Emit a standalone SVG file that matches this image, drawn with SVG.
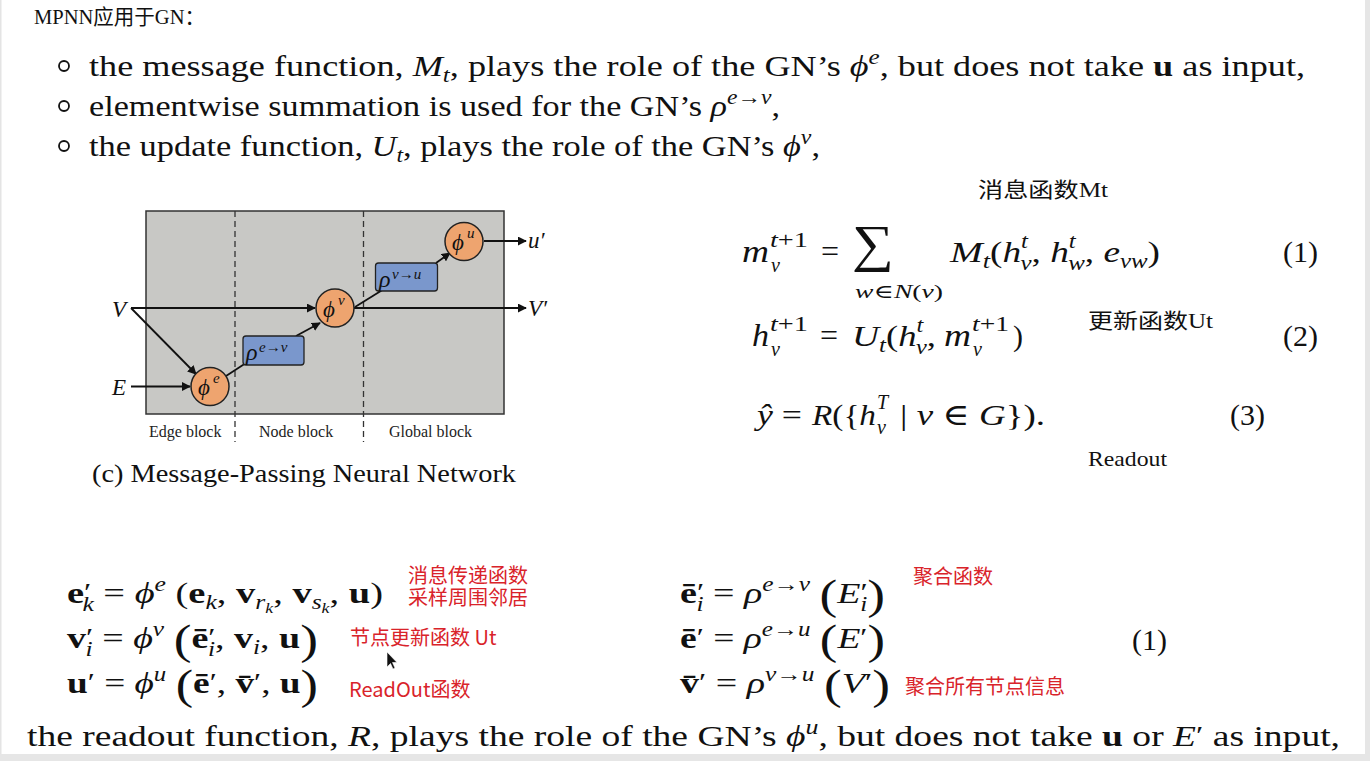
<svg xmlns="http://www.w3.org/2000/svg" width="1370" height="761" viewBox="0 0 1370 761">
<defs>
<style>
.serif{font-family:"Liberation Serif","DejaVu Serif",serif;fill:#111;}
.it{font-style:italic;}
.bf{font-weight:bold;}
.cjk{font-family:"Liberation Serif","Noto Sans CJK SC",serif;fill:#111;}
.red{font-family:"Noto Sans CJK SC","Noto Sans",sans-serif;fill:#d9232a;font-size:20px;}
.conn{stroke:#111;stroke-width:1.8;fill:none;}
.node{fill:#eea46f;stroke:#222;stroke-width:1.5;}
.box{fill:#7a97cc;stroke:#222;stroke-width:1.3;}
.dash{stroke:#333;stroke-width:1.3;stroke-dasharray:6,4;fill:none;}
.lbl{font-family:"Liberation Serif","DejaVu Serif",serif;font-style:italic;fill:#111;}
.blk{font-family:"Liberation Serif","DejaVu Serif",serif;font-size:16px;fill:#222;}
</style>
<marker id="ah" viewBox="0 0 10 10" refX="9" refY="5" markerWidth="5" markerHeight="5" orient="auto" markerUnits="strokeWidth">
<path d="M0,0 L10,5 L0,10 z" fill="#111"/>
</marker>
</defs>
<rect x="0" y="0" width="1370" height="761" fill="#ffffff"/>
<rect x="0" y="0" width="1.5" height="761" fill="#e4e4e4"/>
<rect x="1365" y="0" width="5" height="761" fill="#e6e6e6"/>
<rect x="0" y="754" width="1370" height="7" fill="#e6e6e6"/>

<!-- header -->
<text class="cjk" x="34" y="24" font-size="21" textLength="171" lengthAdjust="spacingAndGlyphs">MPNN应用于GN：</text>

<!-- bullets -->
<g fill="none" stroke="#111" stroke-width="1.8">
<circle cx="64" cy="66" r="5"/>
<circle cx="64" cy="106" r="5"/>
<circle cx="64" cy="146" r="5"/>
</g>
<text class="serif" x="89" y="76" font-size="29" textLength="1216" lengthAdjust="spacingAndGlyphs">the message function, <tspan class="it">M</tspan><tspan class="it" font-size="20" dy="6">t</tspan><tspan dy="-6">, plays the role of the GN’s </tspan><tspan class="it">ϕ</tspan><tspan class="it" font-size="20" dy="-12">e</tspan><tspan dy="12">, but does not take </tspan><tspan class="bf">u</tspan> as input,</text>
<text class="serif" x="89" y="116" font-size="29" textLength="691" lengthAdjust="spacingAndGlyphs">elementwise summation is used for the GN’s <tspan class="it">ρ</tspan><tspan class="it" font-size="20" dy="-12">e→v</tspan><tspan dy="12">,</tspan></text>
<text class="serif" x="89" y="156" font-size="29" textLength="731" lengthAdjust="spacingAndGlyphs">the update function, <tspan class="it">U</tspan><tspan class="it" font-size="20" dy="6">t</tspan><tspan dy="-6">, plays the role of the GN’s </tspan><tspan class="it">ϕ</tspan><tspan class="it" font-size="20" dy="-12">v</tspan><tspan dy="12">,</tspan></text>

<!-- MPNN diagram -->
<g id="panel">
<rect x="146" y="211" width="358" height="203" fill="#c8c8c5" stroke="#333" stroke-width="1.5"/>
<line class="dash" x1="235" y1="211" x2="235" y2="442"/>
<line class="dash" x1="363.5" y1="211" x2="363.5" y2="442"/>
<text class="blk" x="149" y="437">Edge block</text>
<text class="blk" x="259" y="437">Node block</text>
<text class="blk" x="389" y="437">Global block</text>
</g>

<g id="connectors">
<line class="conn" x1="131" y1="308" x2="315" y2="308" marker-end="url(#ah)"/>
<line class="conn" x1="131" y1="308" x2="196" y2="374" marker-end="url(#ah)"/>
<line class="conn" x1="131" y1="386.5" x2="190" y2="386.5" marker-end="url(#ah)"/>
<line class="conn" x1="226" y1="376" x2="246" y2="363"/>
<line class="conn" x1="296" y1="336" x2="320" y2="323" marker-end="url(#ah)"/>
<line class="conn" x1="354" y1="308" x2="526" y2="308" marker-end="url(#ah)"/>
<line class="conn" x1="355" y1="307" x2="384" y2="289"/>
<line class="conn" x1="436" y1="263" x2="450" y2="253" marker-end="url(#ah)"/>
<line class="conn" x1="484" y1="241" x2="526" y2="241" marker-end="url(#ah)"/>
</g>

<g id="in-V"><text class="lbl" x="112" y="317" font-size="23">V</text></g>
<g id="in-E"><text class="lbl" x="112" y="395" font-size="23">E</text></g>
<g id="out-u"><text class="lbl" x="528" y="248" font-size="23">u′</text></g>
<g id="out-V"><text class="lbl" x="528" y="316" font-size="23">V′</text></g>

<g id="phi-e">
<circle class="node" cx="210" cy="386.5" r="19"/>
<text class="lbl" x="198" y="395" font-size="23">ϕ</text>
<text class="lbl" x="213" y="383" font-size="15">e</text>
</g>
<g id="rho-ev">
<rect class="box" x="243" y="336" width="61" height="29" rx="3"/>
<text class="lbl" x="246" y="360" font-size="24">ρ</text>
<text class="lbl" x="259" y="352" font-size="15">e→v</text>
</g>
<g id="phi-v">
<circle class="node" cx="335" cy="308" r="19"/>
<text class="lbl" x="323" y="317" font-size="23">ϕ</text>
<text class="lbl" x="338" y="305" font-size="15">v</text>
</g>
<g id="rho-vu">
<rect class="box" x="375.5" y="263" width="62" height="28" rx="3"/>
<text class="lbl" x="379" y="287" font-size="24">ρ</text>
<text class="lbl" x="392" y="279" font-size="15">v→u</text>
</g>
<g id="phi-u">
<circle class="node" cx="464" cy="241.5" r="19"/>
<text class="lbl" x="452" y="250" font-size="23">ϕ</text>
<text class="lbl" x="467" y="238" font-size="15">u</text>
</g>

<text class="serif" x="92" y="482" font-size="26" textLength="424" lengthAdjust="spacingAndGlyphs">(c) Message-Passing Neural Network</text>

<!-- MPNN equations -->
<text class="cjk" x="978" y="197" font-size="21" textLength="130" lengthAdjust="spacingAndGlyphs">消息函数Mt</text>
<g class="serif" font-size="30">
<text x="742" y="262" class="it" font-size="32" textLength="27" lengthAdjust="spacingAndGlyphs">m</text>
<text x="770" y="247" font-size="20" class="it" textLength="38" lengthAdjust="spacingAndGlyphs">t<tspan font-style="normal">+1</tspan></text>
<text x="771" y="272" font-size="20" class="it">v</text>
<text x="821" y="262" font-size="32">=</text>
<text x="852" y="261" font-size="52" textLength="42" lengthAdjust="spacingAndGlyphs">∑</text>
<text x="855" y="298" font-size="19" class="it" textLength="88" lengthAdjust="spacingAndGlyphs">w<tspan font-style="normal">∈</tspan>N<tspan font-style="normal">(</tspan>v<tspan font-style="normal">)</tspan></text>
<text x="950" y="262" class="it" textLength="40" lengthAdjust="spacingAndGlyphs">M<tspan font-size="20" dy="6">t</tspan></text>
<text x="990" y="262" textLength="170" lengthAdjust="spacingAndGlyphs">(<tspan class="it">h</tspan><tspan class="it" font-size="20" dy="-14">t</tspan><tspan class="it" font-size="20" dx="-6" dy="22">v</tspan><tspan dy="-8">, </tspan><tspan class="it">h</tspan><tspan class="it" font-size="20" dy="-14">t</tspan><tspan class="it" font-size="20" dx="-6" dy="22">w</tspan><tspan dy="-8">, </tspan><tspan class="it">e</tspan><tspan class="it" font-size="20" dy="6">vw</tspan><tspan dy="-6">)</tspan></text>
<text x="1283" y="262">(1)</text>

<text x="752" y="346" class="it" font-size="32" textLength="17" lengthAdjust="spacingAndGlyphs">h</text>
<text x="770" y="331" font-size="20" class="it" textLength="38" lengthAdjust="spacingAndGlyphs">t<tspan font-style="normal">+1</tspan></text>
<text x="771" y="356" font-size="20" class="it">v</text>
<text x="820" y="346" font-size="32">=</text>
<text x="852" y="346" class="it" textLength="34" lengthAdjust="spacingAndGlyphs">U<tspan font-size="20" dy="6">t</tspan></text>
<text x="886" y="346" textLength="50" lengthAdjust="spacingAndGlyphs">(<tspan class="it">h</tspan><tspan class="it" font-size="20" dy="-14">t</tspan><tspan class="it" font-size="20" dx="-6" dy="22">v</tspan><tspan dy="-8">,</tspan></text>
<text x="944" y="346" class="it" font-size="32" textLength="27" lengthAdjust="spacingAndGlyphs">m</text>
<text x="972" y="331" font-size="20" class="it" textLength="37" lengthAdjust="spacingAndGlyphs">t<tspan font-style="normal">+1</tspan></text>
<text x="973" y="356" font-size="20" class="it">v</text>
<text x="1013" y="346">)</text>
<text x="1283" y="346">(2)</text>

<text x="757" y="425" class="it" textLength="45" lengthAdjust="spacingAndGlyphs">ŷ<tspan font-style="normal"> =</tspan></text>
<text x="812" y="425" class="it" textLength="64" lengthAdjust="spacingAndGlyphs">R<tspan font-style="normal">({</tspan>h</text>
<text x="877" y="409" font-size="20" class="it">T</text>
<text x="877" y="434" font-size="20" class="it">v</text>
<text x="900" y="425" class="it" textLength="145" lengthAdjust="spacingAndGlyphs"><tspan font-style="normal">| </tspan>v<tspan font-style="normal"> ∈ </tspan>G<tspan font-style="normal">}).</tspan></text>
<text x="1230" y="425">(3)</text>
</g>
<text class="cjk" x="1088" y="328" font-size="21" textLength="125" lengthAdjust="spacingAndGlyphs">更新函数Ut</text>
<text class="cjk" x="1088" y="466" font-size="21" textLength="79" lengthAdjust="spacingAndGlyphs">Readout</text>

<!-- GN equations -->
<g class="serif" font-size="30">
<text x="67" y="603" textLength="316" lengthAdjust="spacingAndGlyphs"><tspan class="bf">e</tspan><tspan font-size="26" dy="-2">′</tspan><tspan class="it" font-size="20" dx="-7" dy="10">k</tspan><tspan dy="-8"> = </tspan><tspan class="it">ϕ</tspan><tspan class="it" font-size="20" dy="-12">e</tspan><tspan dy="12"> (</tspan><tspan class="bf">e</tspan><tspan class="it" font-size="20" dy="6">k</tspan><tspan dy="-6">, </tspan><tspan class="bf">v</tspan><tspan class="it" font-size="20" dy="6">r</tspan><tspan class="it" font-size="14" dy="4">k</tspan><tspan dy="-10">, </tspan><tspan class="bf">v</tspan><tspan class="it" font-size="20" dy="6">s</tspan><tspan class="it" font-size="14" dy="4">k</tspan><tspan dy="-10">, </tspan><tspan class="bf">u</tspan>)</text>
<text x="67" y="648" textLength="251" lengthAdjust="spacingAndGlyphs"><tspan class="bf">v</tspan><tspan font-size="26" dy="-2">′</tspan><tspan class="it" font-size="20" dx="-6" dy="10">i</tspan><tspan dy="-8"> = </tspan><tspan class="it">ϕ</tspan><tspan class="it" font-size="20" dy="-12">v</tspan><tspan dy="12"> </tspan><tspan font-size="42" dy="6">(</tspan><tspan class="bf" dy="-6">ē</tspan><tspan font-size="26" dy="-2">′</tspan><tspan class="it" font-size="20" dx="-6" dy="10">i</tspan><tspan dy="-8">, </tspan><tspan class="bf">v</tspan><tspan class="it" font-size="20" dy="6">i</tspan><tspan dy="-6">, </tspan><tspan class="bf">u</tspan><tspan font-size="42" dy="6">)</tspan></text>
<text x="67" y="693" textLength="251" lengthAdjust="spacingAndGlyphs"><tspan class="bf">u</tspan><tspan font-size="26" dy="-2">′</tspan><tspan dy="2"> = </tspan><tspan class="it">ϕ</tspan><tspan class="it" font-size="20" dy="-12">u</tspan><tspan dy="12"> </tspan><tspan font-size="42" dy="6">(</tspan><tspan class="bf" dy="-6">ē</tspan><tspan font-size="26" dy="-2">′</tspan><tspan dy="2">, </tspan><tspan class="bf">v̄</tspan><tspan font-size="26" dy="-2">′</tspan><tspan dy="2">, </tspan><tspan class="bf">u</tspan><tspan font-size="42" dy="6">)</tspan></text>

<text x="680" y="603" textLength="205" lengthAdjust="spacingAndGlyphs"><tspan class="bf">ē</tspan><tspan font-size="26" dy="-2">′</tspan><tspan class="it" font-size="20" dx="-6" dy="10">i</tspan><tspan dy="-8"> = </tspan><tspan class="it">ρ</tspan><tspan class="it" font-size="20" dy="-12">e→v</tspan><tspan dy="12"> </tspan><tspan font-size="42" dy="6">(</tspan><tspan class="it" dy="-6">E</tspan><tspan font-size="26" dy="-2">′</tspan><tspan class="it" font-size="20" dx="-6" dy="10">i</tspan><tspan font-size="42" dy="-2">)</tspan></text>
<text x="680" y="648" textLength="205" lengthAdjust="spacingAndGlyphs"><tspan class="bf">ē</tspan><tspan font-size="26" dy="-2">′</tspan><tspan dy="2"> = </tspan><tspan class="it">ρ</tspan><tspan class="it" font-size="20" dy="-12">e→u</tspan><tspan dy="12"> </tspan><tspan font-size="42" dy="6">(</tspan><tspan class="it" dy="-6">E</tspan><tspan font-size="26" dy="-2">′</tspan><tspan font-size="42" dy="8">)</tspan></text>
<text x="680" y="693" textLength="210" lengthAdjust="spacingAndGlyphs"><tspan class="bf">v̄</tspan><tspan font-size="26" dy="-2">′</tspan><tspan dy="2"> = </tspan><tspan class="it">ρ</tspan><tspan class="it" font-size="20" dy="-12">v→u</tspan><tspan dy="12"> </tspan><tspan font-size="42" dy="6">(</tspan><tspan class="it" dy="-6">V</tspan><tspan font-size="26" dy="-2">′</tspan><tspan font-size="42" dy="8">)</tspan></text>
<text x="1132" y="650">(1)</text>
</g>

<text class="red" x="408" y="583">消息传递函数</text>
<text class="red" x="408" y="605">采样周围邻居</text>
<text class="red" x="350" y="645">节点更新函数 Ut</text>
<text class="red" x="349" y="697">ReadOut函数</text>
<text class="red" x="913" y="584">聚合函数</text>
<text class="red" x="905" y="694">聚合所有节点信息</text>

<!-- mouse pointer -->
<path d="M387,652 L387,667 L390.5,663.5 L393,669 L395,668 L392.5,662.5 L397,662.5 Z" fill="#111" stroke="#fff" stroke-width="0.6"/>

<text class="serif" x="27" y="746" font-size="29" textLength="1313" lengthAdjust="spacingAndGlyphs">the readout function, <tspan class="it">R</tspan>, plays the role of the GN’s <tspan class="it">ϕ</tspan><tspan class="it" font-size="20" dy="-12">u</tspan><tspan dy="12">, but does not take </tspan><tspan class="bf">u</tspan> or <tspan class="it">E</tspan><tspan font-size="26" dy="-2">′</tspan><tspan dy="2"> as input,</tspan></text>
</svg>
